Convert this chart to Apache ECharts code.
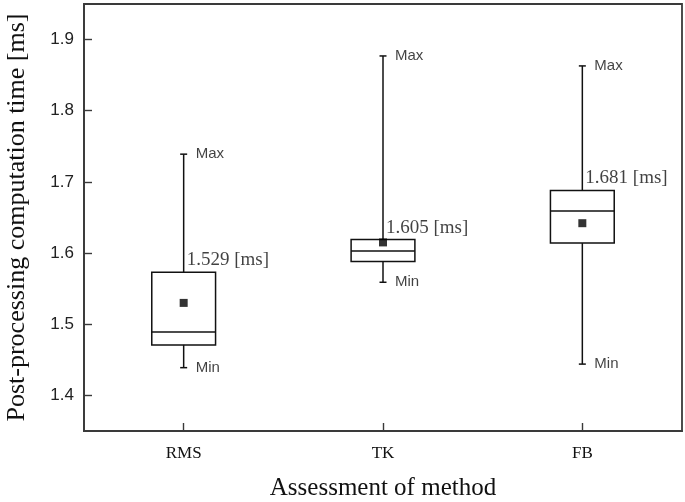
<!DOCTYPE html>
<html>
<head>
<meta charset="utf-8">
<script src="https://cdn.jsdelivr.net/npm/echarts@6/dist/echarts.min.js"></script>
<style>
html,body{margin:0;padding:0;background:#fff;}
#chart{width:685px;height:502px;}
</style>
</head>
<body>
<div id="chart"></div>
<script>
var categories = ['RMS', 'TK', 'FB'];
var minVals = [1.439, 1.559, 1.444];
var q1Vals = [1.471, 1.588, 1.614];
var medianVals = [1.489, 1.603, 1.659];
var q3Vals = [1.573, 1.619, 1.688];
var maxVals = [1.739, 1.877, 1.863];
var meanVals = [1.530, 1.615, 1.642];
var meanLabels = ['1.529 [ms]', '1.605 [ms]', '1.681 [ms]'];
var yTicks = [1.4, 1.5, 1.6, 1.7, 1.8, 1.9];

var boxData = categories.map(function (c, i) {
  return [i, minVals[i], q1Vals[i], medianVals[i], q3Vals[i], maxVals[i]];
});

var chart = echarts.init(document.getElementById('chart'));
var lineStyle = { stroke: '#111', lineWidth: 1.5, fill: null };

var option = {
  animation: false,
  backgroundColor: '#fff',
  grid: { left: 84, right: 3, top: 4, bottom: 71, show: true, borderColor: '#3a3a3a', borderWidth: 1.8, containLabel: false, outerBoundsMode: 'none' },
  xAxis: {
    type: 'category',
    data: categories,
    boundaryGap: true,
    name: 'Assessment of method',
    nameLocation: 'middle',
    nameGap: 45,
    nameTextStyle: { fontFamily: 'Liberation Serif', fontSize: 25, color: '#111' },
    axisLine: { lineStyle: { color: '#3a3a3a', width: 1.8 } },
    axisTick: { show: true, inside: true, length: 8, alignWithLabel: true, lineStyle: { color: '#3a3a3a', width: 1.4 } },
    axisLabel: { fontFamily: 'Liberation Serif', fontSize: 17, color: '#111', margin: 14 },
    splitLine: { show: false }
  },
  yAxis: {
    type: 'value',
    min: 1.35,
    max: 1.95,
    interval: 0.1,
    name: 'Post-processing computation time [ms]',
    nameLocation: 'middle',
    nameGap: 54,
    nameTextStyle: { fontFamily: 'Liberation Serif', fontSize: 26, color: '#111' },
    axisLine: { show: true, lineStyle: { color: '#3a3a3a', width: 1.8 } },
    axisTick: { show: true, inside: true, length: 8, customValues: yTicks, lineStyle: { color: '#3a3a3a', width: 1.4 } },
    axisLabel: { fontFamily: 'Liberation Sans', fontSize: 17, color: '#222', margin: 10, customValues: yTicks,
      formatter: function (v) { return v.toFixed(1); } },
    splitLine: { show: false }
  },
  series: [
    {
      type: 'custom',
      data: boxData,
      encode: { x: 0, y: [1, 2, 3, 4, 5] },
      z: 2,
      renderItem: function (params, api) {
        var idx = api.value(0);
        var pMin = api.coord([idx, api.value(1)]);
        var pQ1 = api.coord([idx, api.value(2)]);
        var pMed = api.coord([idx, api.value(3)]);
        var pQ3 = api.coord([idx, api.value(4)]);
        var pMax = api.coord([idx, api.value(5)]);
        var band = api.size([1, 0])[0];
        var hw = band * 0.16;
        var cw = 3.5;
        var x = pMed[0];
        return {
          type: 'group',
          children: [
            { type: 'rect', shape: { x: x - hw, y: pQ3[1], width: hw * 2, height: pQ1[1] - pQ3[1] }, style: { stroke: '#111', lineWidth: 1.5, fill: '#fff' } },
            { type: 'line', shape: { x1: x - hw, y1: pMed[1], x2: x + hw, y2: pMed[1] }, style: lineStyle },
            { type: 'line', shape: { x1: x, y1: pQ3[1], x2: x, y2: pMax[1] }, style: lineStyle },
            { type: 'line', shape: { x1: x, y1: pQ1[1], x2: x, y2: pMin[1] }, style: lineStyle },
            { type: 'line', shape: { x1: x - cw, y1: pMax[1], x2: x + cw, y2: pMax[1] }, style: lineStyle },
            { type: 'line', shape: { x1: x - cw, y1: pMin[1], x2: x + cw, y2: pMin[1] }, style: lineStyle }
          ]
        };
      }
    },
    {
      type: 'scatter',
      z: 3,
      symbol: 'rect',
      symbolSize: 8,
      itemStyle: { color: '#000' },
      data: meanVals.map(function (v, i) { return [i, v]; })
    },
    {
      type: 'scatter',
      z: 4,
      symbolSize: 0,
      silent: true,
      data: maxVals.map(function (v, i) { return [i, v]; }),
      label: { show: true, position: 'right', distance: 12, formatter: 'Max', fontFamily: 'Liberation Sans', fontSize: 15, color: '#111' }
    },
    {
      type: 'scatter',
      z: 4,
      symbolSize: 0,
      silent: true,
      data: minVals.map(function (v, i) { return [i, v]; }),
      label: { show: true, position: 'right', distance: 12, formatter: 'Min', fontFamily: 'Liberation Sans', fontSize: 15, color: '#111' }
    },
    {
      type: 'scatter',
      z: 4,
      symbolSize: 0,
      silent: true,
      data: q3Vals.map(function (v, i) { return [i, v]; }),
      label: { show: true, position: 'right', distance: 3, offset: [0, -12],
        formatter: function (p) { return meanLabels[p.dataIndex]; },
        fontFamily: 'Liberation Serif', fontSize: 19, color: '#111' }
    }
  ]
};
chart.setOption(option);
</script>
</body>
</html>
